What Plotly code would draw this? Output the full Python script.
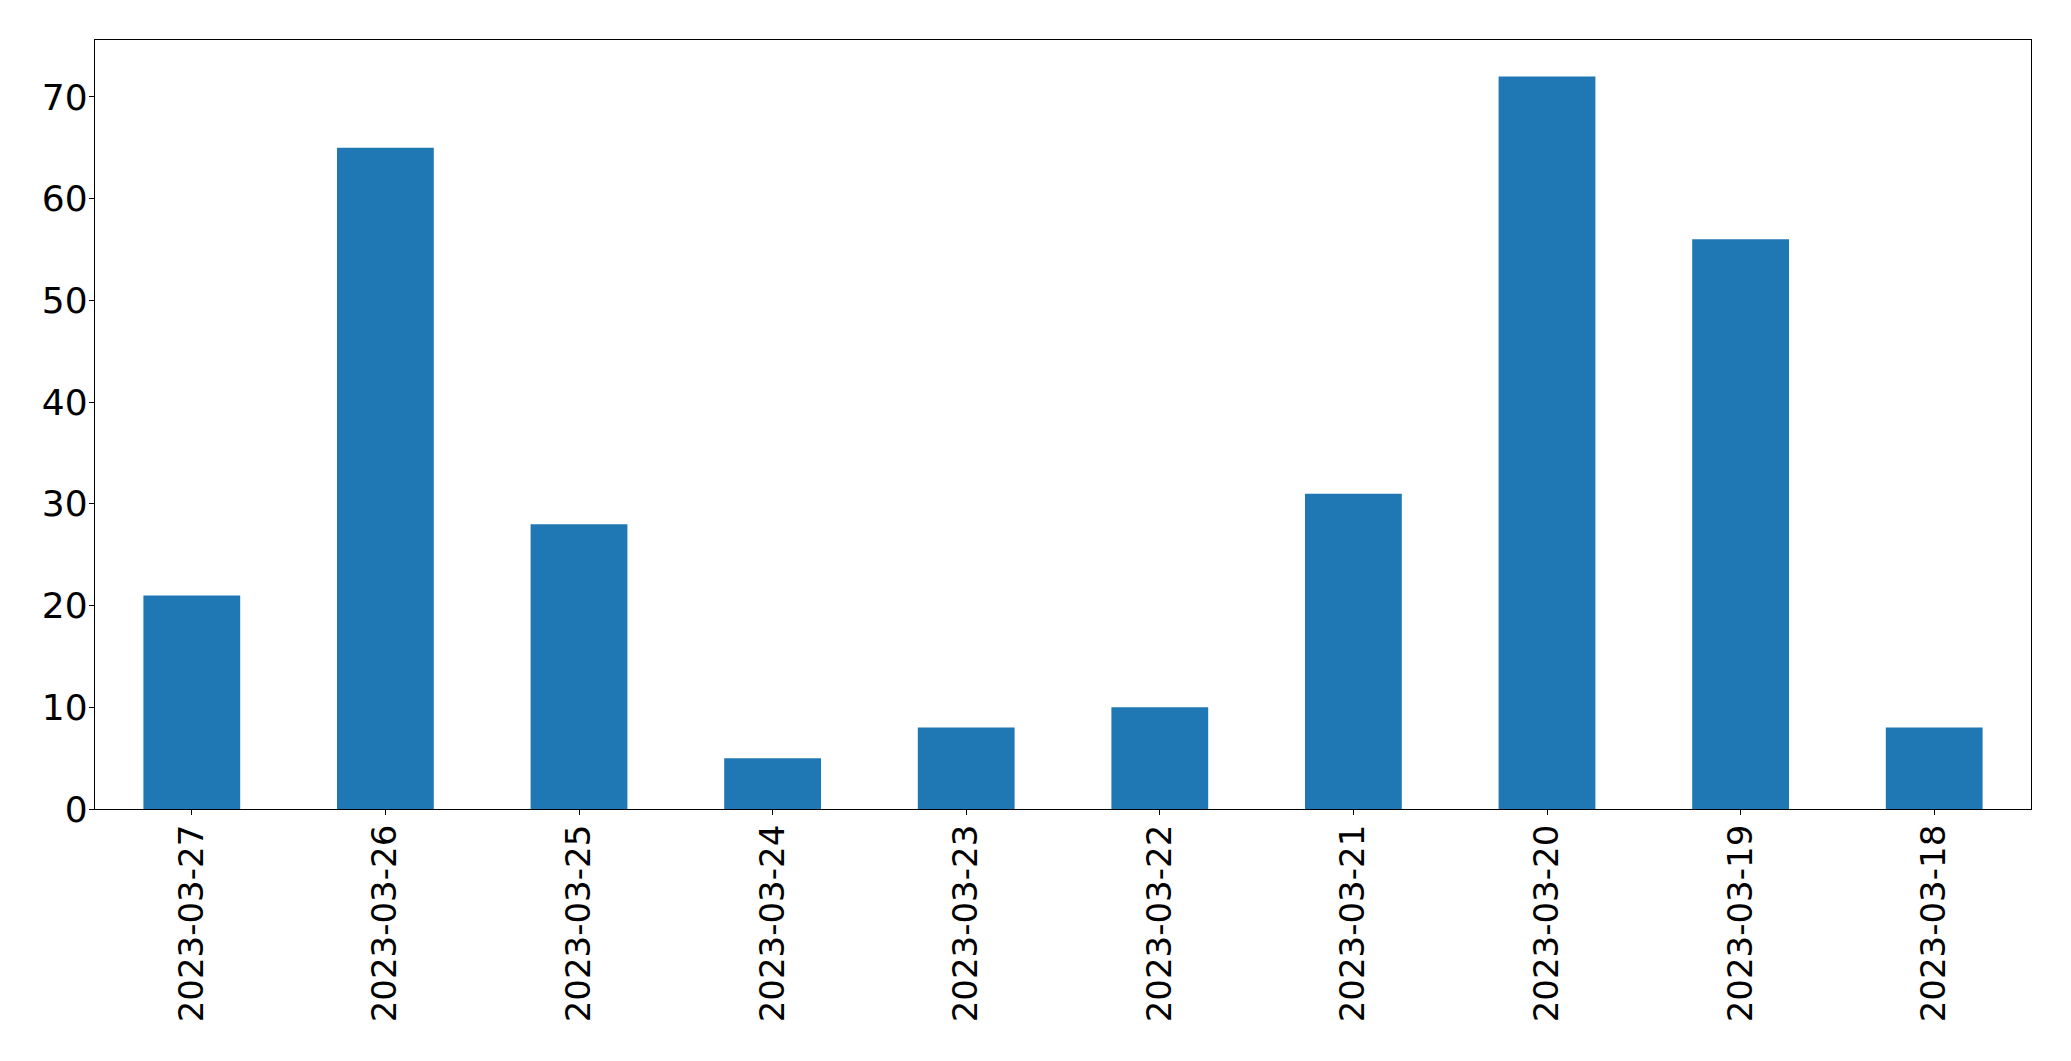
import plotly.graph_objects as go

categories = ["2023-03-27", "2023-03-26", "2023-03-25", "2023-03-24", "2023-03-23",
              "2023-03-22", "2023-03-21", "2023-03-20", "2023-03-19", "2023-03-18"]
values = [21, 65, 28, 5, 8, 10, 31, 72, 56, 8]
y_ticks = [0, 10, 20, 30, 40, 50, 60, 70]

fig = go.Figure(go.Bar(x=categories, y=values, width=0.5, marker=dict(color="#1f77b4", line=dict(width=0))))

# page body has an 8px default margin; compensate so the plot area lands where the reference has it
fig.update_layout(
    width=2063, height=1053,
    margin=dict(l=86.5, r=39.5, t=31.5, b=252, autoexpand=False),
    paper_bgcolor="white", plot_bgcolor="white",
    font=dict(family="DejaVu Sans", size=35, color="black"),
    showlegend=False,
)
fig.update_xaxes(
    type="category", range=[-0.5, 9.5], tickangle=-90, automargin=False,
    tickfont=dict(size=34),
    showline=True, linecolor="black", linewidth=1.3, mirror=True,
    ticks="outside", ticklen=5, tickwidth=1.3, tickcolor="black",
    showgrid=False, zeroline=False, ticklabelstandoff=-4,
)
fig.update_yaxes(
    range=[0, 75.6], tickvals=y_ticks, automargin=False,
    tickfont=dict(size=36),
    showline=True, linecolor="black", linewidth=1.3, mirror=True,
    ticks="outside", ticklen=5, tickwidth=1.3, tickcolor="black",
    showgrid=False, zeroline=False, ticklabelstandoff=-6,
)

fig.write_html("out.html")
